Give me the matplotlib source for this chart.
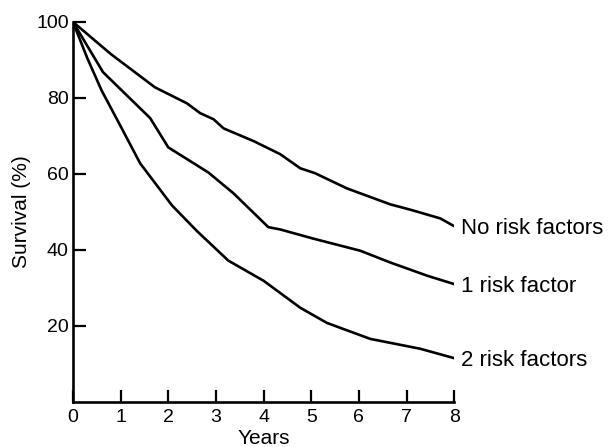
import matplotlib
matplotlib.use("Agg")
import matplotlib.pyplot as plt

plt.rcParams["font.family"] = ["Liberation Sans", "DejaVu Sans"]

# Survival curves by number of risk factors (years, % surviving)
years_none = [0, 0.8, 1.72, 2.39, 2.67, 2.95, 3.16, 3.8, 4.35, 4.77, 5.08, 5.75, 6.66, 7.08, 7.71, 7.98]
surv_none = [100, 91.5, 82.8, 78.6, 76.0, 74.4, 72.0, 68.6, 65.2, 61.5, 60.2, 56.2, 52.0, 50.6, 48.3, 46.4]

years_one = [0, 0.63, 1.62, 2.0, 2.84, 3.37, 4.1, 4.35, 5.04, 6.03, 6.66, 7.44, 7.98]
surv_one = [100, 86.8, 74.7, 67.0, 60.4, 54.9, 46.0, 45.4, 43.0, 39.8, 36.7, 33.2, 31.1]

years_two = [0, 0.3, 0.6, 0.99, 1.41, 2.08, 2.6, 3.26, 4.0, 4.77, 5.33, 6.24, 7.29, 7.98]
surv_two = [100, 90.5, 82.0, 72.8, 62.8, 51.7, 45.0, 37.2, 31.9, 24.8, 20.8, 16.6, 14.0, 11.6]

labels = ["No risk factors", "1 risk factor", "2 risk factors"]
x_ticks = [0, 1, 2, 3, 4, 5, 6, 7, 8]
y_ticks = [20, 40, 60, 80, 100]

fig = plt.figure(figsize=(6.08, 4.47), dpi=100)
ax = fig.add_axes([0.12, 0.1007, 0.627, 0.8502])

series = [(years_none, surv_none), (years_one, surv_one), (years_two, surv_two)]
for (xs, ys), name in zip(series, labels):
    ax.plot(xs, ys, color="black", lw=1.9, solid_joinstyle="round")
    ax.text(xs[-1] + 0.17, ys[-1] - 0.8, name, fontsize=16, va="center", ha="left",
            clip_on=False)

ax.set_xlim(0, 8)
ax.set_ylim(0, 100)
ax.set_xticks(x_ticks)
ax.set_yticks(y_ticks)
ax.tick_params(axis="both", direction="in", width=1.6, labelsize=14)
ax.tick_params(axis="x", length=9, pad=5)
ax.tick_params(axis="y", length=9, pad=3)

for side in ("top", "right"):
    ax.spines[side].set_visible(False)
for side in ("left", "bottom"):
    ax.spines[side].set_linewidth(1.9)

ax.set_xlabel("Years", fontsize=15, labelpad=2)
ax.set_ylabel("Survival (%)", fontsize=15, labelpad=4)

fig.savefig("out.png", dpi=100)
